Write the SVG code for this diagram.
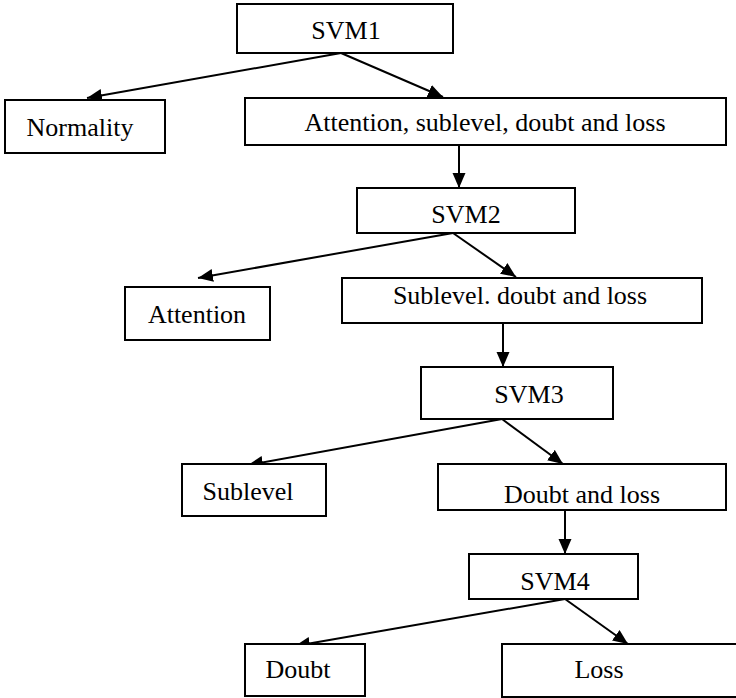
<svg xmlns="http://www.w3.org/2000/svg" width="736" height="698" viewBox="0 0 736 698">
  <defs>
    <marker id="arrow" markerWidth="16" markerHeight="14" refX="15" refY="6.5" orient="auto" markerUnits="userSpaceOnUse">
      <path d="M0,0 L15,6.5 L0,13 z" fill="#000"/>
    </marker>
    <style>
      .box { fill: #fff; stroke: #000; stroke-width: 2; }
      .lbl { font-size: 26px; fill: #000; text-anchor: middle; }
      .edge { stroke: #000; stroke-width: 2; fill: none; marker-end: url(#arrow); }
    </style>
  </defs>
  <rect width="736" height="698" fill="#fff"/>

  <g id="connectors">
    <line class="edge" x1="341" y1="53" x2="87" y2="98"/>
    <line class="edge" x1="341" y1="53" x2="443" y2="97"/>
    <line class="edge" x1="459" y1="145" x2="459" y2="188"/>
    <line class="edge" x1="453" y1="233" x2="198" y2="278"/>
    <line class="edge" x1="453" y1="233" x2="516" y2="277"/>
    <line class="edge" x1="503" y1="323" x2="503" y2="367"/>
    <line class="edge" x1="502" y1="419" x2="248" y2="465"/>
    <line class="edge" x1="502" y1="419" x2="563" y2="464"/>
    <line class="edge" x1="565" y1="510" x2="565" y2="554"/>
    <line class="edge" x1="565" y1="599" x2="295" y2="646"/>
    <line class="edge" x1="565" y1="599" x2="628" y2="644"/>
  </g>

  <g font-family="'Liberation Serif', 'Times New Roman', 'DejaVu Serif', serif">
    <g id="svm1">
      <rect class="box" x="237" y="4" width="216" height="49"/>
      <text class="lbl" x="346" y="39">SVM1</text>
    </g>
    <g id="normality">
      <rect class="box" x="5" y="100" width="160" height="53"/>
      <text class="lbl" x="80" y="136">Normality</text>
    </g>
    <g id="attention-sublevel-doubt-loss">
      <rect class="box" x="245" y="98" width="481" height="47"/>
      <text class="lbl" x="485" y="131">Attention, sublevel, doubt and loss</text>
    </g>
    <g id="svm2">
      <rect class="box" x="357" y="188" width="218" height="45"/>
      <text class="lbl" x="466" y="223">SVM2</text>
    </g>
    <g id="attention">
      <rect class="box" x="125" y="287" width="145" height="53"/>
      <text class="lbl" x="197" y="323">Attention</text>
    </g>
    <g id="sublevel-doubt-loss">
      <rect class="box" x="342" y="278" width="360" height="45"/>
      <text class="lbl" x="520" y="304">Sublevel. doubt and loss</text>
    </g>
    <g id="svm3">
      <rect class="box" x="421" y="367" width="192" height="52"/>
      <text class="lbl" x="529" y="403">SVM3</text>
    </g>
    <g id="sublevel">
      <rect class="box" x="182" y="464" width="144" height="52"/>
      <text class="lbl" x="248" y="500">Sublevel</text>
    </g>
    <g id="doubt-loss">
      <rect class="box" x="438" y="464" width="288" height="46"/>
      <text class="lbl" x="582" y="503">Doubt and loss</text>
    </g>
    <g id="svm4">
      <rect class="box" x="469" y="554" width="169" height="45"/>
      <text class="lbl" x="555" y="590">SVM4</text>
    </g>
    <g id="doubt">
      <rect class="box" x="245" y="644" width="120" height="52"/>
      <text class="lbl" x="298" y="678">Doubt</text>
    </g>
    <g id="loss">
      <rect class="box" x="502" y="644" width="240" height="53"/>
      <text class="lbl" x="599" y="678">Loss</text>
    </g>
  </g>
</svg>
